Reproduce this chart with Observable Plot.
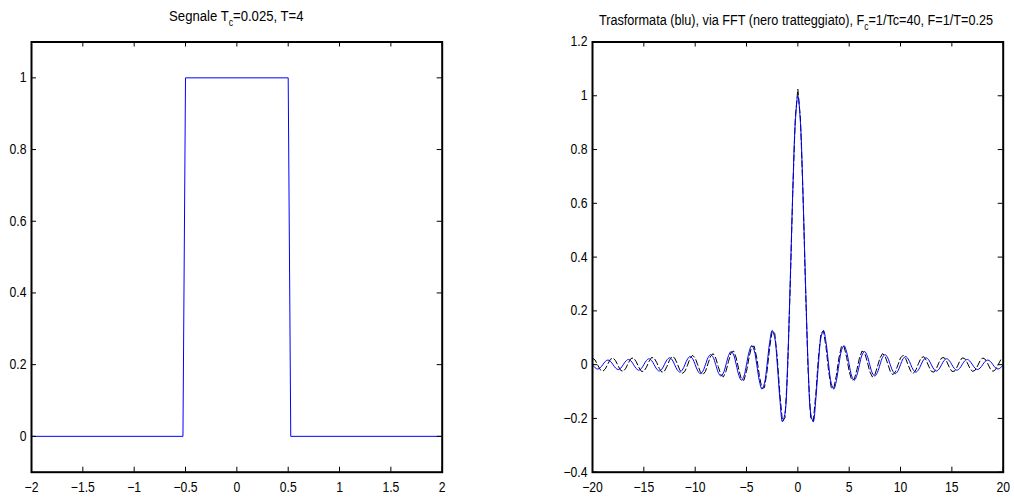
<!DOCTYPE html>
<html>
<head>
<meta charset="utf-8">
<script src="https://cdn.jsdelivr.net/npm/d3@7"></script>
<script src="https://cdn.jsdelivr.net/npm/@observablehq/plot@0.6"></script>
<style>
  body { margin: 0; background: #fff; }
  #wrap { position: relative; width: 1014px; height: 500px; background: #fff; }
  #wrap svg { position: absolute; top: 0; }
</style>
</head>
<body>
<div id="wrap"></div>
<script>
// ---------------- data ----------------
const pulseT = [-2, -0.525, -0.5, 0.5, 0.525, 2];
const pulseV = [0, 0, 1, 1, 0, 0];

// Right panel: frequency grid start / step (0.25 = F = 1/T)
const freqStart = -20;
const freqStep = 0.25;

// Blue curve (analytic transform), f = -20 ... 20 step 0.25
const blueV = [
  0, -0.0114, -0.0163, -0.0117, 0, 0.0120, 0.0172, 0.0123, 0, -0.0127, -0.0182, -0.0130,
  0, 0.0134, 0.0193, 0.0139, 0, -0.0143, -0.0205, -0.0148, 0, 0.0153, 0.0220, 0.0158,
  0, -0.0164, -0.0236, -0.0170, 0, 0.0177, 0.0255, 0.0184, 0, -0.0192, -0.0277, -0.0200,
  0, 0.0209, 0.0303, 0.0220, 0, -0.0231, -0.0335, -0.0243, 0, 0.0257, 0.0374, 0.0273,
  0, -0.0290, -0.0424, -0.0310, 0, 0.0333, 0.0490, 0.0360, 0, -0.0391, -0.0579, -0.0429,
  0, 0.0474, 0.0707, 0.0530, 0, -0.0600, -0.0909, -0.0693, 0, 0.0818, 0.1273, 0.1000,
  0, -0.1286, -0.2122, -0.1801, 0, 0.3001, 0.6366, 0.9003,
  1,
  0.9003, 0.6366, 0.3001, 0, -0.1801, -0.2122, -0.1286, 0, 0.1000, 0.1273, 0.0818, 0,
  -0.0693, -0.0909, -0.0600, 0, 0.0530, 0.0707, 0.0474, 0, -0.0429, -0.0579, -0.0391, 0,
  0.0360, 0.0490, 0.0333, 0, -0.0310, -0.0424, -0.0290, 0, 0.0273, 0.0374, 0.0257, 0,
  -0.0243, -0.0335, -0.0231, 0, 0.0220, 0.0303, 0.0209, 0, -0.0200, -0.0277, -0.0192, 0,
  0.0184, 0.0255, 0.0177, 0, -0.0170, -0.0236, -0.0164, 0, 0.0158, 0.0220, 0.0153, 0,
  -0.0148, -0.0205, -0.0143, 0, 0.0139, 0.0193, 0.0134, 0, -0.0130, -0.0182, -0.0127, 0,
  0.0123, 0.0172, 0.0120, 0, -0.0117, -0.0163, -0.0114, 0
];

// Black dashed curve (via FFT), f = -20 ... 19.75 step 0.25
const fftV = [
  0.025, 0.0173, -0.0010, -0.0187, -0.025, -0.0159, 0.0030, 0.0201, 0.025, 0.0145, -0.0050, -0.0216,
  -0.025, -0.0131, 0.0071, 0.0230, 0.025, 0.0115, -0.0092, -0.0246, -0.025, -0.0099, 0.0115, 0.0263,
  0.025, 0.0082, -0.0140, -0.0280, -0.025, -0.0064, 0.0167, 0.0300, 0.025, 0.0043, -0.0197, -0.0322,
  -0.025, -0.0020, 0.0231, 0.0347, 0.025, -0.0007, -0.0270, -0.0376, -0.025, 0.0039, 0.0317, 0.0410,
  0.025, -0.0077, -0.0374, -0.0453, -0.025, 0.0125, 0.0446, 0.0507, 0.025, -0.0188, -0.0542, -0.0581,
  -0.025, 0.0275, 0.0678, 0.0686, 0.025, -0.0406, -0.0886, -0.0854, -0.025, 0.0629, 0.1257, 0.1167,
  0.025, -0.1101, -0.2112, -0.1972, -0.025, 0.2821, 0.6363, 0.9178,
  1.025,
  0.9178, 0.6363, 0.2821, -0.025, -0.1972, -0.2112, -0.1101, 0.025, 0.1167, 0.1257, 0.0629, -0.025,
  -0.0854, -0.0886, -0.0406, 0.025, 0.0686, 0.0678, 0.0275, -0.025, -0.0581, -0.0542, -0.0188, 0.025,
  0.0507, 0.0446, 0.0125, -0.025, -0.0453, -0.0374, -0.0077, 0.025, 0.0410, 0.0317, 0.0039, -0.025,
  -0.0376, -0.0270, -0.0007, 0.025, 0.0347, 0.0231, -0.0020, -0.025, -0.0322, -0.0197, 0.0043, 0.025,
  0.0300, 0.0167, -0.0064, -0.025, -0.0280, -0.0140, 0.0082, 0.025, 0.0263, 0.0115, -0.0099, -0.025,
  -0.0246, -0.0092, 0.0115, 0.025, 0.0230, 0.0071, -0.0131, -0.025, -0.0216, -0.0050, 0.0145, 0.025,
  0.0201, 0.0030, -0.0159, -0.025, -0.0187, -0.0010, 0.0173
];

// ticks
const xTicksL = [-2, -1.5, -1, -0.5, 0, 0.5, 1, 1.5, 2];
const yTicksL = [0, 0.2, 0.4, 0.6, 0.8, 1];
const xTicksR = [-20, -15, -10, -5, 0, 5, 10, 15, 20];
const yTicksR = [-0.4, -0.2, 0, 0.2, 0.4, 0.6, 0.8, 1, 1.2];

// titles: [before subscript, subscript, after subscript]
const titleL = ["Segnale T", "c", "=0.025, T=4"];
const titleR = ["Trasformata (blu), via FFT (nero tratteggiato), F", "c", "=1/Tc=40, F=1/T=0.25"];

// ---------------- tables ----------------
const pulse = pulseT.map((t, i) => ({t, v: pulseV[i]}));
const blue = blueV.map((v, i) => ({f: freqStart + i * freqStep, v}));
const fft = fftV.map((v, i) => ({f: freqStart + i * freqStep, v}));

// ---------------- drawing ----------------
const FONT = "'Liberation Sans', Arial, Helvetica, sans-serif";
const SX = 0.87;                 // horizontal squeeze of the lettering
const fmt = d3.format("");
const BLUE = "#0000ff";

function panel({width, ml, mr, mt, mb, xDomain, yDomain, xTicks, yTicks, marks}) {
  const fw = width - ml - mr, fh = 500 - mt - mb, tl = 5;
  const svg = Plot.plot({
    width, height: 500,
    marginLeft: ml, marginRight: mr, marginTop: mt, marginBottom: mb,
    x: {domain: xDomain},
    y: {domain: yDomain},
    style: {fontFamily: FONT, fontSize: "14px", color: "black", background: "white", overflow: "visible"},
    marks: [
      ...marks,
      Plot.axisX(xTicks, {tickSize: 0, tickPadding: 10, tickFormat: fmt, label: null}),
      Plot.axisY(yTicks, {tickSize: 0, tickPadding: 5, tickFormat: fmt, label: null}),
      Plot.tickX(xTicks, {x: d => d, insetTop: fh - tl, stroke: "black"}),
      Plot.tickX(xTicks, {x: d => d, insetBottom: fh - tl, stroke: "black"}),
      Plot.tickY(yTicks, {y: d => d, insetRight: fw - tl, stroke: "black"}),
      Plot.tickY(yTicks, {y: d => d, insetLeft: fw - tl, stroke: "black"}),
      Plot.frame({stroke: "black", strokeWidth: 2})
    ]
  });
  d3.select(svg).selectAll("text").each(function () {
    const t = this.getAttribute("transform");
    this.setAttribute("transform", (t ? t + " " : "") + `scale(${SX},1)`);
  });
  return svg;
}

function addTitle(svg, parts, cx, by, sx) {
  const t = d3.select(svg).append("text")
    .attr("transform", `translate(${cx},${by}) scale(${sx},1)`)
    .attr("text-anchor", "middle")
    .attr("font-family", FONT)
    .attr("font-size", 15)
    .attr("fill", "black");
  t.append("tspan").text(parts[0]);
  t.append("tspan").attr("font-size", 10).attr("dy", 5).text(parts[1]);
  t.append("tspan").attr("dy", -5).text(parts[2]);
}

const wrap = document.getElementById("wrap");

const left = panel({
  width: 507, ml: 31, mr: 65.3, mt: 41.5, mb: 28.3,
  xDomain: [-2, 2], yDomain: [-0.1, 1.1], xTicks: xTicksL, yTicks: yTicksL,
  marks: [Plot.line(pulse, {x: "t", y: "v", stroke: BLUE, strokeWidth: 1})]
});
left.style.left = "0px";
addTitle(left, titleL, 236.3, 21, 0.875);
wrap.appendChild(left);

const right = panel({
  width: 507, ml: 85, mr: 11.3, mt: 41.5, mb: 28.3,
  xDomain: [-20, 20], yDomain: [-0.4, 1.2], xTicks: xTicksR, yTicks: yTicksR,
  marks: [
    Plot.line(fft, {x: "f", y: "v", stroke: "black", strokeWidth: 1, strokeDasharray: "6,3"}),
    Plot.line(blue, {x: "f", y: "v", stroke: BLUE, strokeWidth: 1, curve: "catmull-rom"})
  ]
});
right.style.left = "507px";
addTitle(right, titleR, 796 - 507, 25, 0.845);
wrap.appendChild(right);
</script>
</body>
</html>
